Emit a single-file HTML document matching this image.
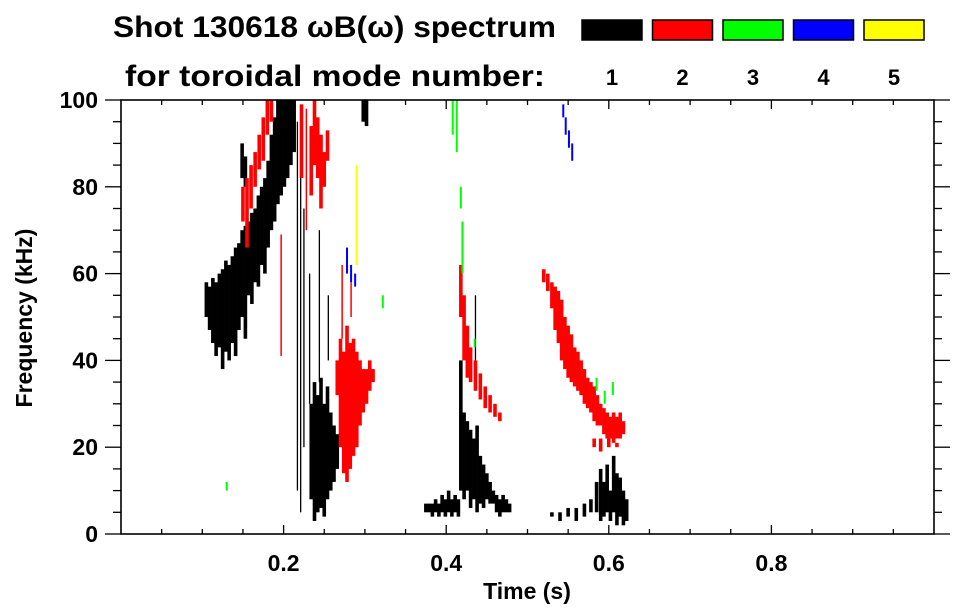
<!DOCTYPE html>
<html><head><meta charset="utf-8"><style>
body{margin:0;background:#fff;}
svg{display:block;font-family:"Liberation Sans",Arial,sans-serif;font-weight:bold;}
</style></head><body>
<svg id="chart" width="963" height="615" viewBox="0 0 963 615" xmlns="http://www.w3.org/2000/svg">
<text x="113" y="37" font-size="30" textLength="443" lengthAdjust="spacingAndGlyphs">Shot 130618 ωB(ω) spectrum</text>
<text x="125" y="86" font-size="30" textLength="420" lengthAdjust="spacingAndGlyphs">for toroidal mode number:</text>
<g id="legend"></g>
<g id="marks"></g>
<g id="axes"></g>
<text x="527" y="599" font-size="23" text-anchor="middle">Time (s)</text>
<text transform="translate(32,318) rotate(-90)" font-size="23" text-anchor="middle">Frequency (kHz)</text>
</svg>
<script>
const modeColors=["#000000","#ff0000","#00ff00","#0000ff","#ffff00"];
const modeLabels=["1","2","3","4","5"];
const xTickLabels=[0.2,0.4,0.6,0.8];
const yTickLabels=[0,20,40,60,80,100];
const mode1=[
[0.105,50,58],[0.109,47,57],[0.113,44,59],[0.117,41,58],[0.121,43,60],[0.125,38,61],[0.129,42,63],[0.133,40,62],[0.137,44,64],[0.141,41,66],[0.145,47,67],[0.149,50,70],[0.153,45,71],[0.157,55,72],[0.161,53,74],[0.165,58,75],[0.169,57,78],[0.173,62,80],[0.177,60,82],[0.181,66,86],[0.185,70,92],[0.189,72,96],[0.193,76,100],[0.197,78,100],[0.201,80,100],[0.205,82,100],[0.209,85,100],[0.213,88,100],
[0.149,82,90],[0.153,80,87],
[0.234,8,30],[0.238,3,35],[0.242,5,32],[0.246,6,36],[0.250,4,30],[0.254,8,34],[0.258,10,28],[0.262,12,25],[0.266,15,23],
[0.298,95,100],[0.302,94,100],
[0.418,10,40],[0.422,8,28],[0.426,10,26],[0.430,6,24],[0.434,8,22],[0.438,5,25],[0.442,7,18],[0.446,6,16],[0.450,8,14],[0.454,7,12],[0.458,7,10],
[0.375,5,7],[0.379,5,7],[0.383,4,7],[0.387,5,8],[0.391,4,7],[0.395,5,9],[0.399,4,8],[0.403,5,10],[0.407,4,8],[0.411,5,9],[0.415,4,8],[0.462,5,9],[0.466,4,8],[0.470,5,9],[0.474,5,8],[0.478,5,7],
[0.585,5,12],[0.590,3,15],[0.594,4,12],[0.598,5,16],[0.602,3,10],[0.606,5,18],[0.610,2,14],[0.614,4,13],[0.618,2,10],[0.622,3,8],
[0.530,4,5],[0.540,3,5],[0.550,4,6],[0.560,3,6],[0.570,4,7],[0.578,5,8]
];
const mode1Lines=[[0.217,10,95],[0.221,5,88],[0.225,20,75],[0.232,30,60],[0.244,35,70],[0.255,40,55],[0.436,40,55]];
const mode2=[
[0.150,72,80],[0.155,66,82],[0.160,75,85],[0.165,80,88],[0.170,84,92],[0.175,86,96],[0.180,92,100],[0.185,95,100],
[0.222,82,99],[0.234,78,94],[0.238,85,100],[0.242,82,96],[0.246,75,92],[0.250,80,88],[0.254,86,93],
[0.266,32,40],[0.270,20,45],[0.274,14,42],[0.278,12,48],[0.282,15,44],[0.286,18,45],[0.290,20,42],[0.294,25,40],[0.298,28,38],[0.302,30,38],[0.306,33,40],[0.310,35,38],
[0.418,50,62],[0.422,40,55],[0.426,36,48],[0.430,35,43],[0.436,33,40],[0.442,31,37],[0.448,29,34],[0.454,28,32],[0.460,27,30],[0.466,26,28],
[0.520,58,61],[0.525,56,60],[0.530,52,58],[0.534,47,57],[0.538,44,56],[0.542,40,54],[0.546,38,50],[0.550,36,48],[0.554,35,46],[0.558,34,43],[0.562,33,42],[0.566,32,40],[0.570,30,38],[0.574,29,36],[0.578,28,35],[0.582,26,34],[0.586,25,32],[0.590,25,30],[0.594,23,29],[0.598,22,28],[0.602,22,27],[0.606,21,28],[0.610,22,27],[0.614,22,28],[0.618,23,26],
[0.582,20,22],[0.590,19,22],[0.600,20,22],[0.610,20,21]
];
const mode2Lines=[[0.197,41,69],[0.228,70,98],[0.272,45,62],[0.283,50,58]];
const mode3=[[0.322,52,55],[0.408,92,100],[0.413,88,100],[0.418,75,80],[0.420,60,72],[0.435,43,45],[0.585,33,36],[0.595,30,33],[0.605,32,35],[0.130,10,12]];
const mode4=[[0.278,60,66],[0.283,58,62],[0.288,57,60],[0.544,96,99],[0.547,92,96],[0.551,89,93],[0.555,86,90]];
const mode5=[[0.290,62,85]];

const X0=121,X1=934,Y0=534,Y1=100;
const xs=t=>X0+(t-0)/(1.0-0)*(X1-X0);
const ys=f=>Y0-(f-0)/(100-0)*(Y0-Y1);
const NS="http://www.w3.org/2000/svg";
function mk(tag,attrs,parent){const e=document.createElementNS(NS,tag);for(const k in attrs)e.setAttribute(k,attrs[k]);parent.appendChild(e);return e;}

const marks=document.getElementById('marks');
function drawSeries(arr,color,w,name){
  arr.forEach(c=>{
    const x=xs(c[0]);const y=ys(c[2]);const h=Math.max(1.5,ys(c[1])-ys(c[2]));
    const r=mk('rect',{x:x-w/2,y:y,width:w,height:h,fill:color},marks);
    
    
  });
}
drawSeries(mode1,modeColors[0],3.6,'mode-1-column');
drawSeries(mode1Lines,modeColors[0],1.3,'mode-1-streak');
drawSeries(mode2,modeColors[1],3.6,'mode-2-column');
drawSeries(mode2Lines,modeColors[1],1.5,'mode-2-streak');
drawSeries(mode3,modeColors[2],2,'mode-3-column');
drawSeries(mode4,modeColors[3],2,'mode-4-column');
drawSeries(mode5,modeColors[4],2,'mode-5-column');

const legend=document.getElementById('legend');
modeLabels.forEach((lab,i)=>{
  const bx=582+i*70.5;
  const r=mk('rect',{x:bx,y:20,width:60,height:20,fill:modeColors[i],stroke:'#000','stroke-width':1.5},legend);
  
  
  const t=mk('text',{x:bx+30,y:85,'font-size':22,'text-anchor':'middle'},legend);
  t.textContent=lab;
  
  
});

const axes=document.getElementById('axes');
mk('rect',{x:X0,y:Y1,width:X1-X0,height:Y0-Y1,fill:'none',stroke:'#000','stroke-width':1.6},axes);
for(let i=1;i<20;i++){
  const t=i*0.05;const x=xs(t);const major=(i%4===0);const L=major?9:5;
  mk('line',{x1:x,x2:x,y1:Y0,y2:Y0-L,stroke:'#000','stroke-width':1.3},axes);
  mk('line',{x1:x,x2:x,y1:Y1,y2:Y1+L,stroke:'#000','stroke-width':1.3},axes);
}
xTickLabels.forEach(v=>{
  const t=mk('text',{x:xs(v),y:571,'font-size':23,'text-anchor':'middle'},axes);
  t.textContent=v.toFixed(1);
  
  
});
for(let i=0;i<=20;i++){
  const f=i*5;const y=ys(f);const major=(i%4===0);const L=major?16:8;
  mk('line',{x1:X0,x2:X0-L,y1:y,y2:y,stroke:'#000','stroke-width':1.3},axes);
  mk('line',{x1:X1,x2:X1+L,y1:y,y2:y,stroke:'#000','stroke-width':1.3},axes);
}
yTickLabels.forEach(v=>{
  const t=mk('text',{x:98,y:ys(v)+8,'font-size':23,'text-anchor':'end'},axes);
  t.textContent=v;
  
  
});
</script>
</body></html>
